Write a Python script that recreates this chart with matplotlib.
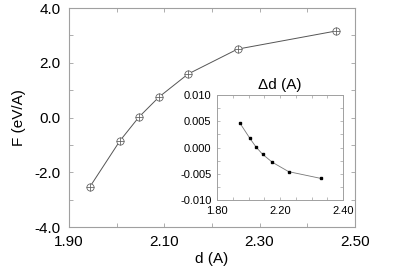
import matplotlib
matplotlib.use("Agg")
import matplotlib.pyplot as plt
from matplotlib.ticker import MultipleLocator

plt.rcParams['font.family'] = ['Liberation Sans', 'DejaVu Sans']

# main curve: force vs distance
d = [1.944, 2.007, 2.047, 2.089, 2.150, 2.254, 2.460]
F = [-2.53, -0.85, 0.02, 0.75, 1.59, 2.50, 3.16]

# inset: displacement vs distance
dd = [0.0047, 0.0018, 0.0001, -0.0013, -0.0028, -0.0046, -0.0059]

main_xticks = [1.9, 2.1, 2.3, 2.5]
main_xlabels = ["1.90", "2.10", "2.30", "2.50"]
main_yticks = [-4, -2, 0, 2, 4]
main_ylabels = ["-4.0", "-2.0", "0.0", "2.0", "4.0"]
ins_xticks = [1.8, 2.2, 2.6]
ins_xlabels = ["1.80", "2.20", "2.40"]
ins_yticks = [-0.010, -0.005, 0.0, 0.005, 0.010]
ins_ylabels = ["-0.010", "-0.005", "0.000", "0.005", "0.010"]

spine_col = "#a0a0a0"

fig = plt.figure(figsize=(4.15, 2.77), dpi=100)
ax = fig.add_axes([0.166, 0.180, 0.689, 0.791])

ax.plot(d, F, color="#555555", lw=0.7, zorder=2)
ax.plot(d, F, ls="none", marker="o", ms=5.2, mfc="white", mec="#666666", mew=0.6, zorder=3)
ax.plot(d, F, ls="none", marker="+", ms=5.2, mec="#666666", mew=0.6, zorder=4)

ax.set_xlim(1.9, 2.5)
ax.set_ylim(-4, 4)
ax.set_xticks(main_xticks)
ax.set_xticklabels(main_xlabels)
ax.set_yticks(main_yticks)
ax.set_yticklabels(main_ylabels)
ax.xaxis.set_minor_locator(MultipleLocator(0.1))
ax.yaxis.set_minor_locator(MultipleLocator(1.0))
ax.tick_params(which="both", direction="in", top=True, right=True,
               length=3, width=0.6, color=spine_col, labelsize=11, pad=6)
ax.set_xlabel("d (A)", fontsize=11, labelpad=2)
ax.set_ylabel("F (eV/A)", fontsize=11, labelpad=6)
for s in ax.spines.values():
    s.set_color(spine_col)
    s.set_linewidth(0.8)

ins = fig.add_axes([0.523, 0.278, 0.304, 0.379])
ins.plot(d, dd, color="#777777", lw=0.6, marker="s", ms=1.8,
         mfc="black", mec="black")
ins.set_xlim(1.8, 2.6)
ins.set_ylim(-0.010, 0.010)
ins.set_xticks(ins_xticks)
ins.set_xticklabels(ins_xlabels)
ins.set_yticks(ins_yticks)
ins.set_yticklabels(ins_ylabels)
ins.xaxis.set_minor_locator(MultipleLocator(0.1))
ins.yaxis.set_minor_locator(MultipleLocator(0.0025))
ins.tick_params(which="both", direction="in", top=True, right=True,
                length=2, width=0.5, color=spine_col, labelsize=8, pad=4)
ins.set_title("\u0394d (A)", fontsize=11, pad=4)
for s in ins.spines.values():
    s.set_color(spine_col)
    s.set_linewidth(0.7)

fig.savefig("out.png", dpi=100)
